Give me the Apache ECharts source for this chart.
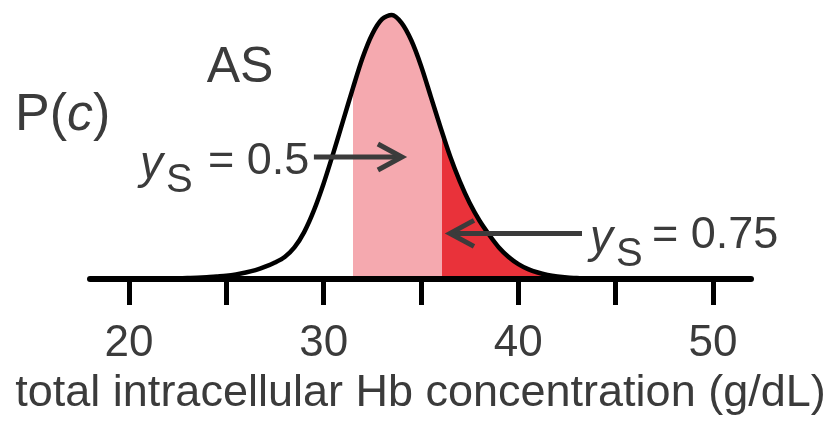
<!DOCTYPE html>
<html>
<head>
<meta charset="utf-8">
<script src="https://cdn.jsdelivr.net/npm/echarts@6/dist/echarts.min.js"></script>
<style>
html,body{margin:0;padding:0;background:#fff;}
#c{width:833px;height:421px;}
</style>
</head>
<body>
<div id="c"></div>
<script>
// ---- data (curve height relative to the peak) ----
const curveX = [19.5, 20, 20.5, 21, 21.5, 22, 22.5, 23, 23.5, 24, 24.5, 25, 25.5, 26, 26.5, 27, 27.5, 28, 28.5, 29, 29.5, 30, 30.5, 31, 31.5, 32, 32.5, 33, 33.5, 34, 34.5, 35, 35.5, 36, 36.5, 37, 37.5, 38, 38.5, 39, 39.5, 40, 40.5, 41, 41.5, 42, 42.5, 43, 43.5, 44, 44.5, 50.3];
const curveY = [0, 0, 0.001, 0.001, 0.002, 0.002, 0.003, 0.004, 0.005, 0.007, 0.010, 0.013, 0.018, 0.025, 0.034, 0.047, 0.063, 0.084, 0.12, 0.178, 0.26, 0.362, 0.478, 0.60, 0.722, 0.838, 0.928, 0.984, 1.0, 0.97, 0.904, 0.808, 0.692, 0.575, 0.464, 0.369, 0.288, 0.222, 0.168, 0.12, 0.084, 0.057, 0.038, 0.025, 0.016, 0.010, 0.006, 0.004, 0.002, 0.001, 0, 0];
const lightBand = [31.5, 36.1];   // y_S = 0.5 region
const darkStart = 36.1;           // y_S = 0.75 region
const tickValues = [20, 25, 30, 35, 40, 45, 50];
const tickLabels = [20, 30, 40, 50];
const xTitle = 'total intracellular Hb concentration (g/dL)';
const arrow1 = {from: [29.5, 0.462], to: [34.02, 0.462]};
const arrow2 = {from: [43.27, 0.173], to: [36.49, 0.173]};

const FONT = '"Liberation Sans", Arial, sans-serif';
const TXT = '#3b3b3b';
const PINK = '#f5a9af';
const RED = '#e9323a';

const curve = curveX.map((x, i) => [x, curveY[i]]);

const chart = echarts.init(document.getElementById('c'), null, {renderer: 'canvas'});
const option = {
  animation: false,
  backgroundColor: '#fff',
  grid: {left: 90, right: 82, top: 4, bottom: 137},
  xAxis: {
    type: 'value', min: 18, max: 51.95, z: 5,
    axisLine: {show: true, lineStyle: {color: '#000', width: 6, cap: 'round'}},
    axisTick: {show: true, customValues: tickValues, length: 26, lineStyle: {color: '#000', width: 5}},
    axisLabel: {customValues: tickLabels, fontSize: 44, fontFamily: FONT, color: TXT, margin: 40},
    splitLine: {show: false},
    name: xTitle, nameLocation: 'middle', nameGap: 82,
    nameTextStyle: {fontSize: 45, fontFamily: FONT, color: TXT}
  },
  yAxis: {type: 'value', min: -0.0113, max: 1.0414, show: false, splitLine: {show: false}},
  visualMap: {
    show: false, type: 'piecewise', seriesIndex: 0, dimension: 0,
    pieces: [
      {lt: lightBand[0], color: 'rgba(255,255,255,0)'},
      {gte: lightBand[0], lt: lightBand[1], color: PINK},
      {gte: darkStart, color: RED}
    ]
  },
  series: [
    {type: 'line', data: curve, smooth: 0.3, showSymbol: false, silent: true,
     lineStyle: {width: 0, opacity: 0}, areaStyle: {opacity: 1, origin: 'start'}, z: 2},
    {type: 'line', data: curve, smooth: 0.3, showSymbol: false, silent: true,
     lineStyle: {color: '#000', width: 4.5, join: 'round'}, z: 3}
  ]
};
chart.setOption(option);

function arrowGraphics(a) {
  const p0 = chart.convertToPixel({gridIndex: 0}, a.from);
  const p1 = chart.convertToPixel({gridIndex: 0}, a.to);
  const dir = p1[0] > p0[0] ? 1 : -1;
  return [
    {type: 'polyline', z: 100, shape: {points: [p0, [p1[0] - dir * 2, p1[1]]]},
     style: {stroke: TXT, lineWidth: 5, fill: null}},
    {type: 'polyline', z: 100, shape: {points: [[p1[0] - dir * 24, p1[1] - 13], p1, [p1[0] - dir * 24, p1[1] + 13]]},
     style: {stroke: TXT, lineWidth: 5, fill: null, lineJoin: 'miter'}}
  ];
}

function txt(text, x, y, size, opts) {
  return Object.assign({type: 'text', z: 100, x: x, y: y,
    style: Object.assign({text: text, fontSize: size, fontFamily: FONT, fill: TXT, align: 'left', verticalAlign: 'middle'}, opts || {})});
}

const graphics = [].concat(
  arrowGraphics(arrow1),
  arrowGraphics(arrow2),
  [
    txt('AS', 240, 68, 50, {align: 'center'}),
    {type: 'text', z: 100, x: 15, y: 116, style: {
      text: '{n|P(}{i|c}{n|)}', align: 'left', verticalAlign: 'middle',
      rich: {
        n: {fontSize: 52, fontFamily: FONT, fill: TXT, color: TXT},
        i: {fontSize: 52, fontFamily: FONT, fill: TXT, color: TXT, fontStyle: 'italic'}
      }}},
    txt('y', 140, 165, 46, {fontStyle: 'italic'}),
    txt('S', 166, 181, 40),
    txt('= 0.5', 208, 162, 45),
    txt('y', 590, 239, 46, {fontStyle: 'italic'}),
    txt('S', 616, 255, 40),
    txt('= 0.75', 652, 236, 45)
  ]
);
chart.setOption({graphic: graphics});
</script>
</body>
</html>
